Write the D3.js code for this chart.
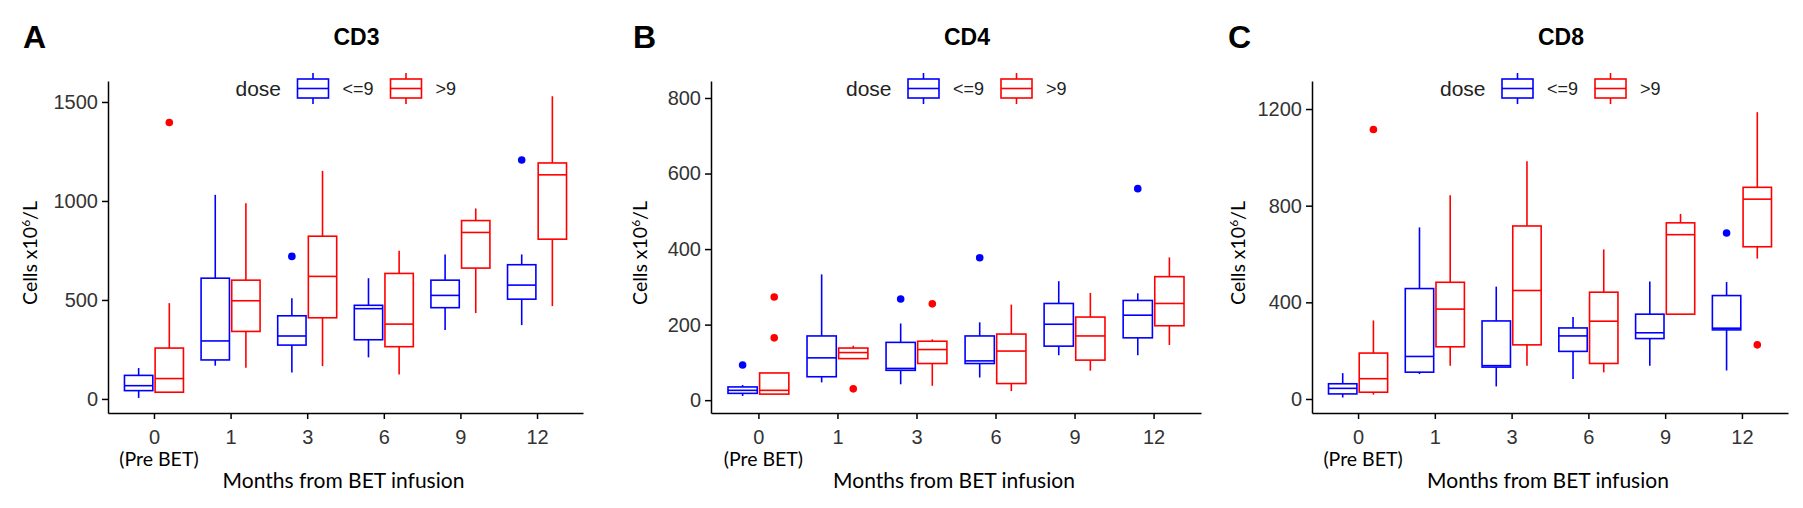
<!DOCTYPE html>
<html>
<head>
<meta charset="utf-8">
<script src="https://cdn.jsdelivr.net/npm/d3@7"></script>
<style>
  body { margin: 0; background: #fff; }
  svg { display: block; }
  .tick text { fill: #333; font-family: "Liberation Sans", Arial, sans-serif; font-size: 20px; }
  .axis path, .axis line { stroke: #000; stroke-width: 1.5; }
  .lbl { font-family: Lato, "Open Sans", sans-serif; fill: #000; }
</style>
</head>
<body>
<svg></svg>
<script>
const WIDTH = 1803;
const HEIGHT = 508;

const months = ["0", "1", "3", "6", "9", "12"];
const doses = ["<=9", ">9"];

// five number summaries per month: [lower whisker, q1, median, q3, upper whisker]
const cd3Low = [[5, 42, 67, 119, 156], [168, 197, 293, 610, 1031], [133, 272, 318, 420, 508],
  [210, 299, 456, 473, 610], [348, 461, 523, 600, 730], [373, 504, 575, 678, 730]];
const cd3High = [[34, 34, 103, 257, 484], [158, 341, 496, 600, 989], [166, 410, 619, 822, 1152],
  [124, 264, 378, 634, 748], [434, 661, 841, 901, 962], [469, 807, 1132, 1192, 1529]];
const cd3LowOut = [["3", 720], ["12", 1207]];
const cd3HighOut = [["0", 1396]];
const cd3Ticks = [0, 500, 1000, 1500];

const cd4Low = [[11, 18, 26, 35, 40], [47, 62, 112, 170, 333], [42, 79, 84, 153, 203],
  [60, 97, 104, 170, 206], [119, 143, 201, 256, 315], [119, 165, 225, 264, 283]];
const cd4High = [[16, 16, 26, 72, 72], [110, 110, 126, 138, 144], [38, 97, 134, 156, 161],
  [24, 44, 130, 175, 253], [78, 106, 170, 220, 284], [146, 197, 256, 327, 378]];
const cd4LowOut = [["0", 93], ["3", 268], ["6", 377], ["12", 560]];
const cd4HighOut = [["0", 273], ["0", 165], ["1", 30], ["3", 255]];
const cd4Ticks = [0, 200, 400, 600, 800];

const cd8Low = [[6, 21, 44, 63, 107], [103, 111, 176, 457, 710], [52, 132, 138, 323, 465],
  [83, 197, 261, 294, 339], [138, 250, 274, 351, 486], [118, 286, 293, 428, 484]];
const cd8High = [[18, 28, 84, 190, 325], [138, 216, 372, 483, 843], [138, 224, 449, 716, 984],
  [110, 147, 322, 442, 619], [351, 351, 680, 729, 766], [581, 630, 827, 876, 1187]];
const cd8LowOut = [["12", 687]];
const cd8HighOut = [["0", 1115], ["12", 224]];
const cd8Ticks = [0, 400, 800, 1200];

const COLORS = { "<=9": "#0000ff", ">9": "#ff0000" };

const panels = [
  { letter: "A", title: "CD3", low: cd3Low, high: cd3High, lowOut: cd3LowOut, highOut: cd3HighOut,
    ticks: cd3Ticks, yDomain: [-71, 1606], left: 108, right: 583, letterX: 23, ylabX: 30 },
  { letter: "B", title: "CD4", low: cd4Low, high: cd4High, lowOut: cd4LowOut, highOut: cd4HighOut,
    ticks: cd4Ticks, yDomain: [-34, 845], left: 711, right: 1201, letterX: 633, ylabX: 640 },
  { letter: "C", title: "CD8", low: cd8Low, high: cd8High, lowOut: cd8LowOut, highOut: cd8HighOut,
    ticks: cd8Ticks, yDomain: [-58, 1316], left: 1312, right: 1788, letterX: 1228, ylabX: 1238 }
];

const TOP = 81;
const BOTTOM = 413;

const svg = d3.select("svg").attr("width", WIDTH).attr("height", HEIGHT);

panels.forEach(drawPanel);

function drawPanel(p) {
  const g = svg.append("g");
  const x = d3.scalePoint().domain(months).range([p.left, p.right]).padding(0.6);
  const y = d3.scaleLinear().domain(p.yDomain).range([BOTTOM, TOP]);
  const step = x.step();
  const boxW = step * 0.37;
  const dodge = { "<=9": -step * 0.2, ">9": step * 0.2 };

  // axes
  g.append("g").attr("class", "axis")
    .attr("transform", `translate(${p.left},0)`)
    .call(d3.axisLeft(y).tickValues(p.ticks).tickFormat(d3.format("d"))
      .tickSize(6).tickSizeOuter(0).tickPadding(4));
  g.append("g").attr("class", "axis")
    .attr("transform", `translate(0,${BOTTOM})`)
    .call(d3.axisBottom(x).tickSize(6).tickSizeOuter(0).tickPadding(4))
    .selectAll(".tick text").attr("dy", "1.05em");

  // boxes
  const series = [
    { dose: "<=9", stats: p.low, out: p.lowOut },
    { dose: ">9", stats: p.high, out: p.highOut }
  ];
  series.forEach((s) => {
    const col = COLORS[s.dose];
    const bg = g.append("g").attr("stroke", col).attr("fill", "none").attr("stroke-width", 1.6);
    const cells = bg.selectAll("g.box").data(s.stats).enter().append("g").attr("class", "box");
    const cx = (d, i) => x(months[i]) + dodge[s.dose];
    cells.append("line")
      .attr("x1", cx).attr("x2", cx)
      .attr("y1", (d) => y(d[4])).attr("y2", (d) => y(d[3]));
    cells.append("line")
      .attr("x1", cx).attr("x2", cx)
      .attr("y1", (d) => y(d[1])).attr("y2", (d) => y(d[0]));
    cells.append("rect")
      .attr("x", (d, i) => cx(d, i) - boxW / 2).attr("width", boxW)
      .attr("y", (d) => y(d[3])).attr("height", (d) => y(d[1]) - y(d[3]));
    cells.append("line")
      .attr("x1", (d, i) => cx(d, i) - boxW / 2).attr("x2", (d, i) => cx(d, i) + boxW / 2)
      .attr("y1", (d) => y(d[2])).attr("y2", (d) => y(d[2]));

    g.append("g").selectAll("circle").data(s.out).enter().append("circle")
      .attr("cx", (d) => x(d[0]) + dodge[s.dose])
      .attr("cy", (d) => y(d[1]))
      .attr("r", 3.8)
      .attr("fill", col);
  });

  const cxPlot = (p.left + p.right) / 2;

  // "(Pre BET)" under the first tick
  g.append("text").attr("class", "lbl")
    .attr("x", x("0") + 5).attr("y", 466)
    .attr("text-anchor", "middle").style("font-size", "19.5px")
    .text("(Pre BET)");

  g.append("text").attr("class", "lbl")
    .attr("x", cxPlot - 2).attr("y", 488)
    .attr("text-anchor", "middle").style("font-size", "21px")
    .text("Months from BET infusion");

  const yl = g.append("text").attr("class", "lbl")
    .attr("transform", `translate(${p.ylabX},253) rotate(-90)`)
    .attr("text-anchor", "middle").attr("dy", "0.35em")
    .style("font-size", "19.5px");
  yl.append("tspan").text("Cells x10");
  yl.append("tspan").text("6").style("font-size", "12px").attr("dy", -7);
  yl.append("tspan").text("/L").attr("dy", 7);

  // panel letter and title
  g.append("text")
    .attr("x", p.letterX).attr("y", 48)
    .style("font-family", "'Liberation Sans', Arial, sans-serif")
    .style("font-weight", "bold").style("font-size", "32px")
    .text(p.letter);
  g.append("text")
    .attr("x", cxPlot + 11).attr("y", 45)
    .attr("text-anchor", "middle")
    .style("font-family", "'Liberation Sans', Arial, sans-serif")
    .style("font-weight", "bold").style("font-size", "23px")
    .text(p.title);

  drawLegend(g, cxPlot);
}

function drawLegend(g, cx) {
  const lg = g.append("g").attr("transform", `translate(${cx},0)`);
  lg.append("text")
    .attr("x", -110).attr("y", 96)
    .style("font-family", "'Liberation Sans', Arial, sans-serif")
    .style("font-size", "21px").attr("fill", "#222")
    .text("dose");
  const keyX = { "<=9": -48, ">9": 45 };
  doses.forEach((d) => {
    const k = lg.append("g").attr("stroke", COLORS[d]).attr("fill", "none").attr("stroke-width", 1.6);
    const x0 = keyX[d], w = 31, mid = x0 + w / 2;
    k.append("rect").attr("x", x0).attr("y", 79).attr("width", w).attr("height", 19);
    k.append("line").attr("x1", x0).attr("x2", x0 + w).attr("y1", 88.5).attr("y2", 88.5);
    k.append("line").attr("x1", mid).attr("x2", mid).attr("y1", 73).attr("y2", 79);
    k.append("line").attr("x1", mid).attr("x2", mid).attr("y1", 98).attr("y2", 104);
    lg.append("text")
      .attr("x", x0 + w + 14).attr("y", 95)
      .style("font-family", "'Liberation Sans', Arial, sans-serif")
      .style("font-size", "18px").attr("fill", "#222")
      .text(d);
  });
}
</script>
</body>
</html>
